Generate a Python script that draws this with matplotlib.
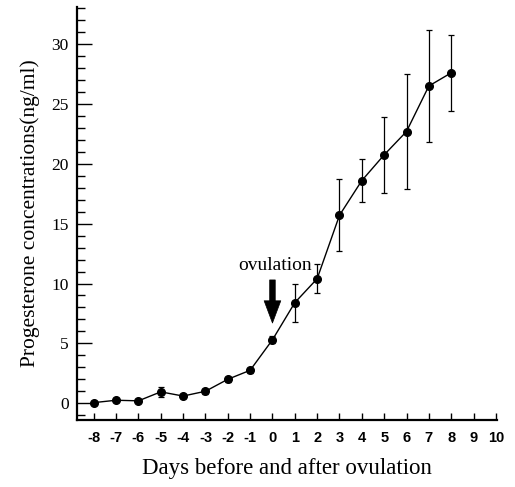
import matplotlib.pyplot as plt
import numpy as np
from matplotlib.ticker import MultipleLocator

# === Data ===
days = [-8, -7, -6, -5, -4, -3, -2, -1, 0, 1, 2, 3, 4, 5, 6, 7, 8]
progesterone = [0.05, 0.25, 0.2, 0.95, 0.6, 1.0, 2.0, 2.75, 5.3, 8.4, 10.4,
                15.7, 18.6, 20.75, 22.7, 26.5, 27.6]
sem = [0.1, 0.15, 0.1, 0.4, 0.15, 0.2, 0.2, 0.2, 0.3, 1.6, 1.2,
       3.0, 1.8, 3.2, 4.8, 4.7, 3.2]
x_ticks = list(range(-8, 11))
y_ticks = [0, 5, 10, 15, 20, 25, 30]

serif = ['Liberation Serif', 'DejaVu Serif']

fig = plt.figure(figsize=(5.15, 4.87), dpi=100)
ax = fig.add_axes([0.1495, 0.1376, 0.8155, 0.848])

ax.errorbar(days, progesterone, yerr=sem, fmt='-o', color='black',
            ms=5.5, lw=1.0, elinewidth=0.9, capsize=2.2, capthick=0.9)

ax.set_xlim(-8.75, 10.05)
ax.set_ylim(-1.4, 33.1)

ax.spines['top'].set_visible(False)
ax.spines['right'].set_visible(False)
ax.spines['left'].set_linewidth(1.6)
ax.spines['bottom'].set_linewidth(1.6)

ax.set_xticks(x_ticks)
ax.set_xticklabels([str(d) for d in x_ticks], fontfamily='Liberation Sans',
                   fontweight='bold', fontsize=10.5)
ax.tick_params(axis='x', direction='in', length=5, width=1.0, pad=8)

ax.set_yticks(y_ticks)
ax.set_yticklabels([str(v) for v in y_ticks], fontfamily=serif, fontsize=12.5)
ax.yaxis.set_minor_locator(MultipleLocator(1))
ax.tick_params(axis='y', which='major', direction='in', length=11, width=1.0, pad=6)
ax.tick_params(axis='y', which='minor', direction='in', length=6, width=1.0)

ax.set_ylabel('Progesterone concentrations(ng/ml)', fontfamily=serif, fontsize=15.5, labelpad=8)
ax.set_xlabel('Days before and after ovulation', fontfamily=serif, fontsize=16.5, labelpad=9)

# ovulation marker
ax.annotate('', xy=(0, 6.7), xytext=(0, 10.3),
            arrowprops=dict(arrowstyle='simple,head_width=0.6,head_length=0.8,tail_width=0.2',
                            mutation_scale=20, fc='black', ec='black', lw=0.5,
                            shrinkA=0, shrinkB=0))
ax.text(0.1, 11.5, 'ovulation', fontfamily=serif, fontsize=14, ha='center', va='center')

fig.savefig('out.png', dpi=100)
